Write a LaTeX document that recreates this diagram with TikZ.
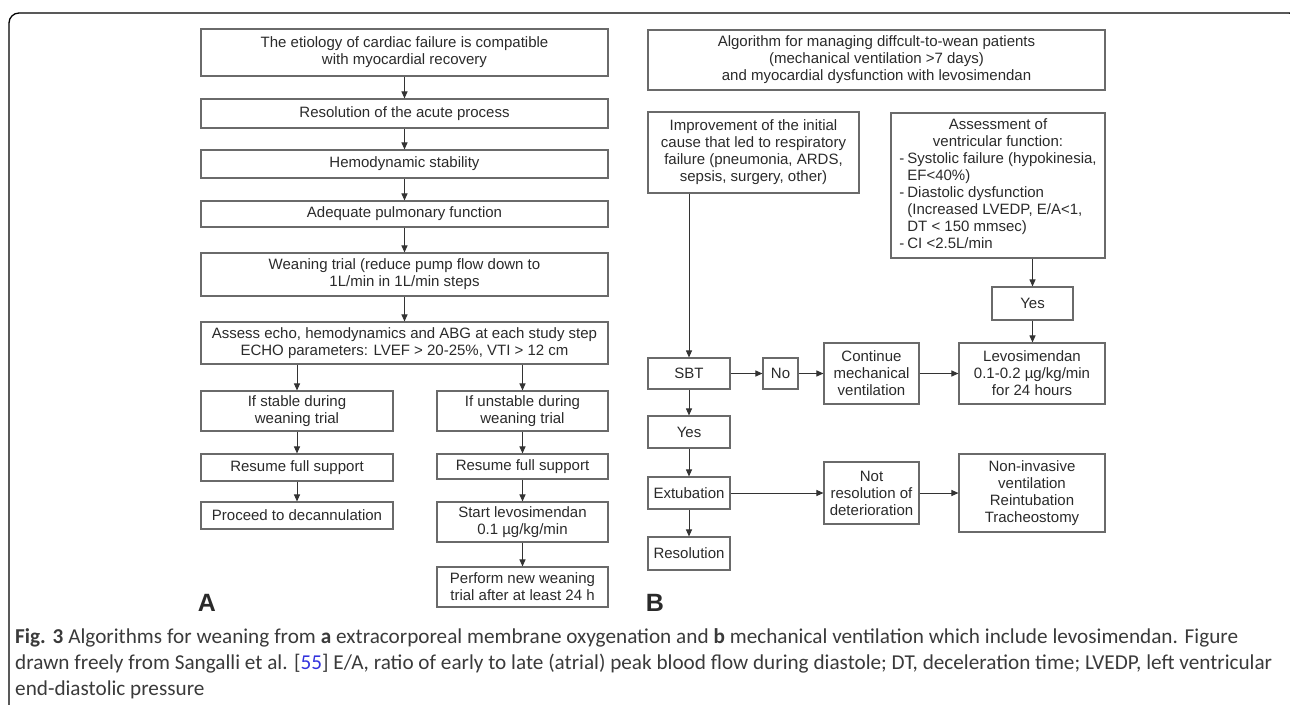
\documentclass[tikz,border=0pt]{standalone}
\usepackage{fontspec}
\setmainfont{Liberation Sans}
\newfontfamily\capfont{Carlito}
\usetikzlibrary{arrows.meta}
\definecolor{boxc}{HTML}{6A6A6A}
\definecolor{txtc}{HTML}{2A2A2A}
\definecolor{arrc}{HTML}{333333}
\definecolor{capc}{HTML}{3A3A3A}
\definecolor{refc}{HTML}{3333DD}
\newcommand\dfont{\fontsize{15}{17}\selectfont}
\begin{document}
\begin{tikzpicture}[x=1pt,y=-1pt,
  bx/.style={draw=boxc, line width=1.1pt, inner sep=0pt, align=center, font=\dfont, text=txtc},
  wh/.style 2 args={minimum width=#1pt, minimum height=#2pt},
  arr/.style={draw=arrc, line width=1pt, -{Triangle[length=7pt,width=6pt]}},
  lbl/.style={font=\bfseries\fontsize{25}{25}\selectfont, text=txtc},
  captxt/.style={anchor=base west, inner sep=0pt, font=\capfont\fontsize{21.2}{21.2}\selectfont, text=capc}]
\useasboundingbox (0,0) rectangle (1290,704);
\draw[line width=1.3pt, rounded corners=10pt] (9,720) -- (9,13) -- (1299,13) -- (1299,720);

% ---- Panel A ----
\node[bx, wh={407}{47}] (a1) at (404.5,52.5) {The etiology of cardiac failure is compatible\\with myocardial recovery};
\node[bx, wh={407}{29}] (a2) at (404.5,113.5) {Resolution of the acute process};
\node[bx, wh={407}{28}] (a3) at (404.5,164) {Hemodynamic stability};
\node[bx, wh={407}{26}] (a4) at (404.5,214) {Adequate pulmonary function};
\node[bx, wh={407}{43}] (a5) at (404.5,274.5) {Weaning trial (reduce pump flow down to\\1L/min in 1L/min steps};
\node[bx, wh={407}{42}] (a6) at (404.5,343) {Assess echo, hemodynamics and ABG at each study step\\ECHO parameters: LVEF > 20-25\%, VTI > 12 cm};
\node[bx, wh={192}{40}] (s1) at (297,411) {If stable during\\weaning trial};
\node[bx, wh={192}{27}] (s2) at (297,467.5) {Resume full support};
\node[bx, wh={192}{27}] (s3) at (297,515.5) {Proceed to decannulation};
\node[bx, wh={171}{40}] (u1) at (522.5,411) {If unstable during\\weaning trial};
\node[bx, wh={171}{25}] (u2) at (522.5,466.5) {Resume full support};
\node[bx, wh={171}{40}] (u3) at (522.5,522) {Start levosimendan\\0.1 µg/kg/min};
\node[bx, wh={171}{40}] (u4) at (522.5,587) {Perform new weaning\\trial after at least 24 h};
\node[lbl] (la) at (207,603) {A};

\draw[arr] (a1) -- (a2);
\draw[arr] (a2) -- (a3);
\draw[arr] (a3) -- (a4);
\draw[arr] (a4) -- (a5);
\draw[arr] (a5) -- (a6);
\draw[arr] (a6.south -| s1) -- (s1);
\draw[arr] (a6.south -| u1) -- (u1);
\draw[arr] (s1) -- (s2);
\draw[arr] (s2) -- (s3);
\draw[arr] (u1) -- (u2);
\draw[arr] (u2) -- (u3);
\draw[arr] (u3) -- (u4);

% ---- Panel B ----
\node[bx, wh={457}{60}] (hd) at (876.5,60) {Algorithm for managing diffcult-to-wean patients\\(mechanical ventilation >7 days)\\and myocardial dysfunction with levosimendan};
\node[bx, wh={211}{81}] (imp) at (753.5,152.5) {Improvement of the initial\\cause that led to respiratory\\failure (pneumonia, ARDS,\\sepsis, surgery, other)};
\node[bx, wh={214}{145}] (asv) at (998,185.5) {\begin{tabular}{@{}l@{\hspace{3pt}}l@{}}
\multicolumn{2}{c}{Assessment of}\\
\multicolumn{2}{c}{ventricular function:}\\
-&Systolic failure (hypokinesia,\\
 &EF<40\%)\\
-&Diastolic dysfunction\\
 &(Increased LVEDP, E/A<1,\\
 &DT < 150 mmsec)\\
-&CI <2.5L/min
\end{tabular}};
\node[bx, wh={81}{33}] (yr) at (1032.5,303.5) {Yes};
\node[bx, wh={146}{61}] (lev) at (1032,373.5) {Levosimendan\\0.1-0.2 µg/kg/min\\for 24 hours};
\node[bx, wh={82}{31}] (sbt) at (689,373.5) {SBT};
\node[bx, wh={35}{31}] (no) at (780.5,373.5) {No};
\node[bx, wh={95}{61}] (cont) at (871.5,373.5) {Continue\\mechanical\\ventilation};
\node[bx, wh={82}{32}] (yl) at (689,432) {Yes};
\node[bx, wh={82}{32}] (ext) at (689,493) {Extubation};
\node[bx, wh={82}{33}] (res) at (689,553.5) {Resolution};
\node[bx, wh={95}{62}] (nr) at (871.5,493) {Not\\resolution of\\deterioration};
\node[bx, wh={146}{78}] (niv) at (1032,493) {Non-invasive\\ventilation\\Reintubation\\Tracheostomy};
\node[lbl] (lb) at (655,603) {B};

\draw[arr] (imp.south -| sbt) -- (sbt);
\draw[arr] (asv.south -| yr) -- (yr);
\draw[arr] (yr) -- (lev.north -| yr);
\draw[arr] (sbt) -- (no);
\draw[arr] (no) -- (cont);
\draw[arr] (cont) -- (lev);
\draw[arr] (sbt) -- (yl);
\draw[arr] (yl) -- (ext);
\draw[arr] (ext) -- (res);
\draw[arr] (ext) -- (nr);
\draw[arr] (nr) -- (niv);

% ---- Caption ----
\node[captxt] (c1) at (15,643) {\makebox[1223pt][s]{\textbf{Fig. 3} Algorithms for weaning from \textbf{a} extracorporeal membrane oxygenation and \textbf{b} mechanical ventilation which include levosimendan. Figure}};
\node[captxt] (c2) at (15,669) {\makebox[1257pt][s]{drawn freely from Sangalli et al. [\textcolor{refc}{55}] E/A, ratio of early to late (atrial) peak blood flow during diastole; DT, deceleration time; LVEDP, left ventricular}};
\node[captxt] (c3) at (15,695) {end-diastolic pressure};
\end{tikzpicture}
\end{document}
